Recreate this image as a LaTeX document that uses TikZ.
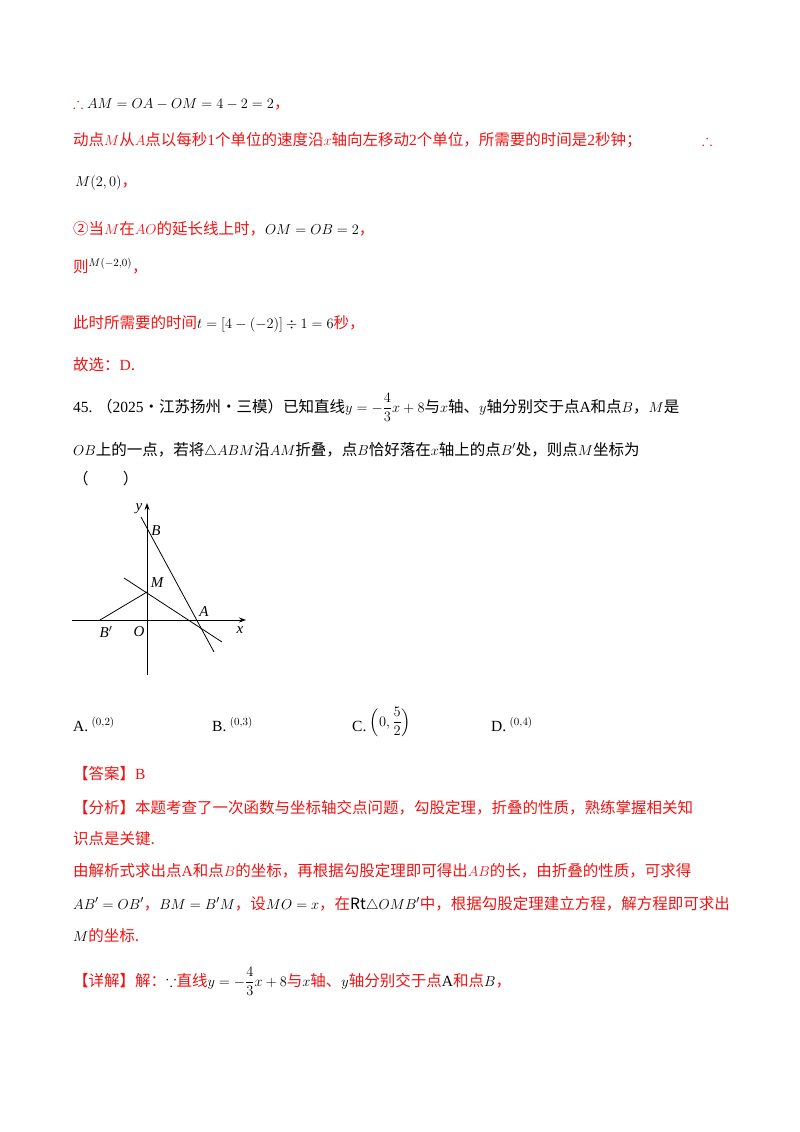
\documentclass[tikz,border=0pt]{standalone}
\usepackage{amsmath,amssymb}
\usepackage{fontspec}
\setmainfont{Noto Sans CJK SC}
\newfontfamily\lat{Liberation Serif}
\usetikzlibrary{arrows.meta}
\definecolor{rd}{RGB}{240,20,20}
\tikzset{
  txt/.style={anchor=base west,inner sep=0pt,font=\fontsize{15.5}{18}\selectfont},
  red/.style={txt,text=rd},
  blk/.style={txt,text=black},
  ax/.style={line width=0.8pt,-{Stealth[length=7pt,width=5pt]}},
  ln/.style={line width=0.8pt},
  lab/.style={font=\lat\itshape\fontsize{15}{15}\selectfont,inner sep=1pt}
}
\begin{document}
\begin{tikzpicture}[x=1pt,y=-1pt]
\useasboundingbox[fill=white] (0,0) rectangle (800,1132);
% solution lines
\node[red] (l1) at (73,108) {$\therefore$ \textcolor{black}{$AM=OA-OM=4-2=2$}，};
\node[red] (l2) at (73,145) {动点$M$从$A$点以每秒{\lat 1}个单位的速度沿$x$轴向左移动{\lat 2}个单位，所需要的时间是{\lat 2}秒钟；};
\node[red] (l2b) at (702,145) {$\therefore$};
\node[blk] (l3) at (75,186) {$M(2,0)$\textcolor{rd}{，}};
\node[red] (l4) at (73,234) {②当$M$在$AO$的延长线上时，\textcolor{black}{$OM=OB=2$}，};
\node[red] (l5) at (73,272) {则\textcolor{black}{$^{M(-2,0)}$}，};
\node[red] (l6) at (73,328) {此时所需要的时间\textcolor{black}{$t=[4-(-2)]\div1=6$}秒，};
\node[red] (l7) at (73,370) {故选：{\lat D}.};
% question
\node[blk] (q1) at (73,412) {{\lat 45.} （{\lat 2025}•江苏扬州•三模）已知直线$y=-\dfrac{4}{3}x+8$与$x$轴、$y$轴分别交于点{\lat A}和点$B$，$M$是};
\node[blk] (q2) at (73,455) {$OB$上的一点，若将$\triangle ABM$沿$AM$折叠，点$B$恰好落在$x$轴上的点$B'$处，则点$M$坐标为};
\node[blk] (q3) at (73,484) {（\hspace{2.2em}）};
% diagram
\coordinate (O) at (147,620);
\coordinate (yt) at (147,503);
\coordinate (yb) at (147,675);
\coordinate (xl) at (72,620);
\coordinate (xr) at (246,620);
\coordinate (M) at (147,592);
\coordinate (A) at (197,620);
\coordinate (Bp) at (100,620);
\coordinate (ABt) at (141,517);
\coordinate (ABb) at (214,652);
\coordinate (Ft) at (124,578);
\coordinate (Fb) at (222,642);
\draw[ax] (yb) -- (yt);
\draw[ax] (xl) -- (xr);
\draw[ln] (ABt) -- (ABb);
\draw[ln] (Ft) -- (Fb);
\draw[ln] (Bp) -- (M);
\node[lab] (ly) at (139,509) {y};
\node[lab] (lB) at (156,531) {B};
\node[lab] (lM) at (157,583) {M};
\node[lab] (lA) at (204,612) {A};
\node[lab] (lBp) at (106,632) {B$'$};
\node[lab] (lO) at (139,632) {O};
\node[lab] (lx) at (240,630) {x};
% options
\node[blk] (oA) at (73,731) {{\lat A.} $^{(0,2)}$};
\node[blk] (oB) at (212,731) {{\lat B.} $^{(0,3)}$};
\node[blk] (oC) at (352,731) {{\lat C.} \raisebox{5pt}{$\left(0,\dfrac{5}{2}\right)$}};
\node[blk] (oD) at (491,731) {{\lat D.} $^{(0,4)}$};
% answer
\node[red] (a1) at (73,779) {【答案】{\lat B}};
\node[red] (a2) at (73,813) {【分析】本题考查了一次函数与坐标轴交点问题，勾股定理，折叠的性质，熟练掌握相关知};
\node[red] (a3) at (73,844) {识点是关键.};
\node[red] (a4) at (73,876) {由解析式求出点{\lat A}和点$B$的坐标，再根据勾股定理即可得出$AB$的长，由折叠的性质，可求得};
\node[red] (a5) at (73,909) {\textcolor{black}{$AB'=OB'$}，\textcolor{black}{$BM=B'M$}，设\textcolor{black}{$MO=x$}，在\textcolor{black}{Rt$\triangle OMB'$}中，根据勾股定理建立方程，解方程即可求出};
\node[red] (a6) at (73,941) {\textcolor{black}{$M$}的坐标.};
\node[red] (a7) at (73,986) {【详解】解：\textcolor{black}{$\because$}直线\textcolor{black}{$y=-\dfrac{4}{3}x+8$}与\textcolor{black}{$x$}轴、\textcolor{black}{$y$}轴分别交于点\textcolor{black}{\lat A}和点\textcolor{black}{$B$}，};
\end{tikzpicture}
\end{document}
